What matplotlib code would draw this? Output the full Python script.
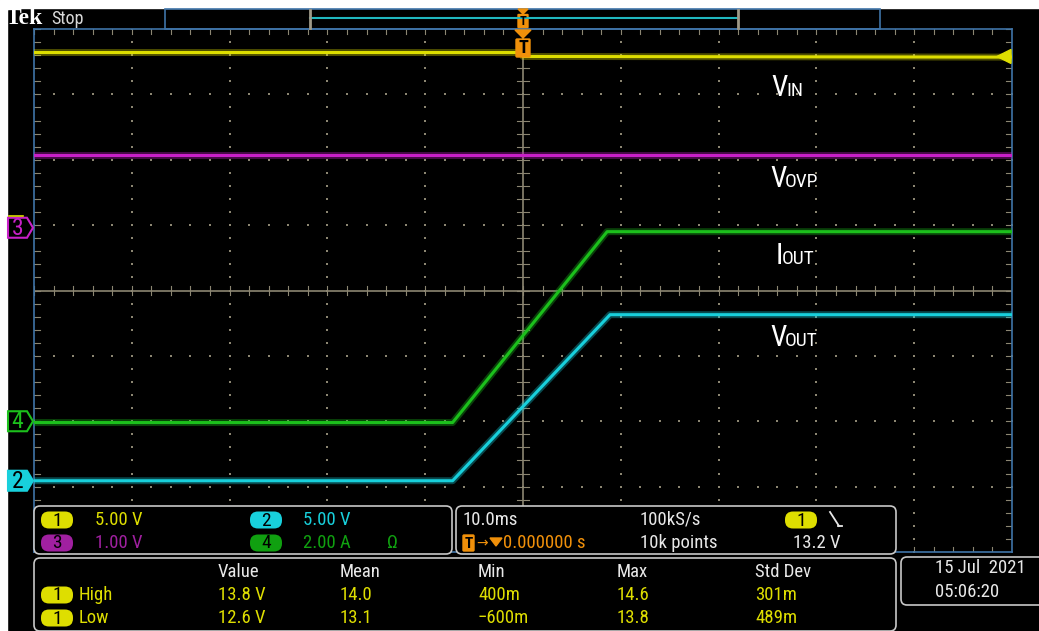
import matplotlib
matplotlib.use('Agg')
import matplotlib.pyplot as plt
from matplotlib.patches import FancyBboxPatch, Rectangle, Polygon
from matplotlib import font_manager as fm

# ---------------- data (time in ms, amplitude in screen divisions) ----------------
vin_time = [-50, 0, 0, 50]
vin_div = [3.64, 3.64, 3.58, 3.57]
vovp_time = [-50, 50]
vovp_div = [2.07, 2.07]
iout_time = [-50, -7.2, 8.6, 50]
iout_div = [-2.02, -2.02, 0.90, 0.90]
vout_time = [-50, -7.2, 8.9, 50]
vout_div = [-2.91, -2.91, -0.37, -0.37]

ch_marker_names = ['3', '4', '2']
ch_marker_levels = [0.96, -2.0, -2.91]
trig_level_div = 3.58

ch_scales = [('1', '5.00 V'), ('2', '5.00 V'), ('3', '1.00 V'), ('4', '2.00 A')]
timebase = '10.0ms'
sample_rate = '100kS/s'
record_len = '10k points'
trig_pos = '0.000000 s'
trig_val = '13.2 V'
meas_headers = ['Value', 'Mean', 'Min', 'Max', 'Std Dev']
meas_names = ['High', 'Low']
meas_values = [['13.8 V', '14.0', '400m', '14.6', '301m'],
               ['12.6 V', '13.1', '\u2212600m', '13.8', '489m']]
date_str = '15 Jul  2021'
time_str = '05:06:20'
trace_labels = [('V', 'IN'), ('V', 'OVP'), ('I', 'OUT'), ('V', 'OUT')]

# ---------------- colours ----------------
YEL = '#dede00'
MAG = '#c820c8'
GRN = '#1cc01c'
CYN = '#18d0dc'
ORG = '#f0900a'
GRID = '#8c8672'
BORDER = '#3f74a8'
PANEL = '#c8c8c8'

# ---------------- font ----------------
names = {f.name for f in fm.fontManager.ttflist}
FONT = 'DejaVu Sans'
for cand in ['Liberation Sans Narrow', 'Roboto Condensed', 'Open Sans Condensed']:
    if cand in names:
        FONT = cand
        break
plt.rcParams['font.family'] = [FONT, 'DejaVu Sans']

W, H = 1039, 631
fig = plt.figure(figsize=(W / 100, H / 100), dpi=100, facecolor='black')

# graticule area in pixels
L, R, T, B = 34, 1012, 29, 552
ax = fig.add_axes([L / W, 1 - B / H, (R - L) / W, (B - T) / H])
ax.set_facecolor('black')
ax.set_xlim(-50, 50)
ax.set_ylim(-4, 4)
ax.set_xticks([])
ax.set_yticks([])
for s in ax.spines.values():
    s.set_color(BORDER)
    s.set_linewidth(1.2)

# dotted grid
minor_y = [i * 0.2 for i in range(-20, 21)]
minor_x = [i * 2 for i in range(-25, 26)]
for gx in range(-40, 50, 10):
    if gx == 0:
        continue
    ax.scatter([gx] * len(minor_y), minor_y, s=1.2, color=GRID, marker='s', linewidths=0, zorder=1)
for gy in range(-3, 4):
    if gy == 0:
        continue
    ax.scatter(minor_x, [gy] * len(minor_x), s=1.2, color=GRID, marker='s', linewidths=0, zorder=1)
# center lines with ticks
ax.axhline(0, color=GRID, lw=1.2, zorder=1)
ax.axvline(0, color=GRID, lw=1.2, zorder=1)
for mx in minor_x:
    ax.plot([mx, mx], [-0.07, 0.07], color=GRID, lw=0.8, zorder=1)
for my in minor_y:
    ax.plot([-0.6, 0.6], [my, my], color=GRID, lw=0.8, zorder=1)
# edge ticks
for mx in minor_x:
    ax.plot([mx, mx], [3.93, 4.0], color=GRID, lw=0.8, zorder=1)
    ax.plot([mx, mx], [-4.0, -3.93], color=GRID, lw=0.8, zorder=1)
for my in minor_y:
    ax.plot([-50, -49.4], [my, my], color=GRID, lw=0.8, zorder=1)
    ax.plot([49.4, 50], [my, my], color=GRID, lw=0.8, zorder=1)

# traces: noisy band + core
for t, v, c in [(vin_time, vin_div, YEL), (vovp_time, vovp_div, MAG),
                (iout_time, iout_div, GRN), (vout_time, vout_div, CYN)]:
    ax.plot(t, v, color=c, lw=5.0, alpha=0.35, solid_joinstyle='round', zorder=3)
    ax.plot(t, v, color=c, lw=2.2, solid_joinstyle='round', zorder=4)

# ---------------- overlay in pixel coordinates ----------------
ov = fig.add_axes([0, 0, 1, 1], zorder=5)
ov.set_xlim(0, W)
ov.set_ylim(H, 0)
ov.axis('off')
ov.patch.set_alpha(0)

# white strips top & left
ov.add_patch(Rectangle((0, 0), W, 8, color='white', zorder=0))
ov.add_patch(Rectangle((0, 0), 7, H, color='white', zorder=0))

# top bar
ov.text(6, 19, 'Tek', color='white', fontsize=17, fontweight='bold',
        family=['Liberation Serif', 'DejaVu Serif'], va='center', ha='left')
ov.text(51, 18.5, 'Stop', color='#d8d8d8', fontsize=13, va='center', ha='left')
ov.add_patch(Rectangle((165, 8.5), 715, 20, fill=False, ec=BORDER, lw=1.2))
ov.plot([310, 738], [17.5, 17.5], color='#20b8c0', lw=1.5)
ov.plot([310, 310], [9.5, 27.5], color='#a09a88', lw=2)
ov.plot([738, 738], [9.5, 27.5], color='#a09a88', lw=2)
# small T marker in the top bar
ov.add_patch(Polygon([[518, 9], [528, 9], [523, 14]], closed=True, color=ORG))
ov.add_patch(FancyBboxPatch((518.5, 15), 9, 12, boxstyle='round,pad=0.5', color=ORG))
ov.text(523, 21.5, 'T', color='black', fontsize=9, fontweight='bold', ha='center', va='center')
# T marker at top of graticule
ov.add_patch(Polygon([[515, 30], [531, 30], [523, 38]], closed=True, color=ORG))
ov.add_patch(FancyBboxPatch((517, 40), 12, 16, boxstyle='round,pad=1', color=ORG))
ov.text(523, 48, 'T', color='black', fontsize=13, fontweight='bold', ha='center', va='center')

# trigger level arrow on the right
def div2py(d):
    return (T + B) / 2 - d * (B - T) / 8

ty = div2py(trig_level_div)
ov.add_patch(Polygon([[997, ty], [1011, ty - 7], [1011, ty + 7]], closed=True, color=YEL))

# channel ground markers on the left
mstyle = {'3': (MAG, False), '4': (GRN, False), '2': (CYN, True)}
for name, lvl in zip(ch_marker_names, ch_marker_levels):
    c, filled = mstyle[name]
    y = div2py(lvl)
    pts = [[8, y - 10], [27, y - 10], [33, y], [27, y + 10], [8, y + 10]]
    ov.add_patch(Polygon(pts, closed=True, fc=c if filled else 'black', ec=c, lw=1.5))
    ov.text(17.5, y + 0.5, name, color='black' if filled else c, fontsize=17,
            ha='center', va='center')
ov.plot([9, 23], [div2py(0.96) - 11.5] * 2, color=YEL, lw=1.2)

# trace labels
label_pos = [(771, 96), (770, 187), (776, 264), (770, 346)]
for (big, small), (x, y) in zip(trace_labels, label_pos):
    ov.text(x, y, big, color='white', fontsize=21, ha='left', va='baseline')
    xoff = 15 if big == 'V' else 6
    ov.text(x + xoff, y, small, color='white', fontsize=14, ha='left', va='baseline')

# ---------------- bottom panels ----------------
def panel(x0, y0, x1, y1):
    ov.add_patch(FancyBboxPatch((x0 + 6, y0 + 6), x1 - x0 - 12, y1 - y0 - 12,
                                boxstyle='round,pad=6', fc='black', ec=PANEL, lw=1.2))

def badge(x, y, txt, c, tc='black'):
    ov.add_patch(FancyBboxPatch((x - 8, y - 0.5), 16, 1, boxstyle='round,pad=8,rounding_size=8',
                                fc=c, ec=c, lw=0))
    ov.text(x, y + 0.5, txt, color=tc, fontsize=14, ha='center', va='center')

FS = 13.5
panel(34, 506, 452, 554)
panel(456, 506, 896, 554)
panel(34, 558, 896, 631)
panel(901, 557, 1045, 605)

chcol = {'1': YEL, '2': CYN, '3': '#a020a0', '4': '#10a010'}
chtxt = {'1': YEL, '2': CYN, '3': '#a020a0', '4': '#10a010'}
pos = {'1': (57, 95, 520), '2': (266, 303, 520), '3': (57, 95, 543), '4': (266, 303, 543)}
for ch, s in ch_scales:
    bx, tx, y = pos[ch]
    badge(bx, y, ch, chcol[ch])
    ov.text(tx, y, s, color=chtxt[ch], fontsize=FS, ha='left', va='center')
ov.text(387, 543, '\u03a9', color='#10a010', fontsize=FS, ha='left', va='center')

ov.text(463, 520, timebase, color='#e8e8e8', fontsize=FS, ha='left', va='center')
ov.text(640, 520, sample_rate, color='#e8e8e8', fontsize=FS, ha='left', va='center')
ov.text(640, 543, record_len, color='#e8e8e8', fontsize=FS, ha='left', va='center')
badge(801, 520, '1', YEL)
ov.plot([830, 839], [512, 526], color='#e8e8e8', lw=1.3)
ov.plot([838, 842], [526, 526], color='#e8e8e8', lw=1.3)
ov.text(793, 543, trig_val, color='#e8e8e8', fontsize=FS, ha='left', va='center')
ov.add_patch(FancyBboxPatch((464, 536), 9, 14, boxstyle='round,pad=1', color=ORG))
ov.text(468.5, 543.5, 'T', color='black', fontsize=11, fontweight='bold', ha='center', va='center')
ov.text(476, 543, '\u2192', color=ORG, fontsize=10, ha='left', va='center')
ov.add_patch(Polygon([[490, 538], [502, 538], [496, 546]], closed=True, color=ORG))
ov.text(503, 543, trig_pos, color=ORG, fontsize=FS, ha='left', va='center')

hx = [218, 340, 478, 617, 755]
for h, x in zip(meas_headers, hx):
    ov.text(x, 572, h, color='#e8e8e8', fontsize=FS, ha='left', va='center')
for r, (nm, vals) in enumerate(zip(meas_names, meas_values)):
    y = 595 + r * 23
    badge(57, y, '1', YEL)
    ov.text(79, y, nm, color=YEL, fontsize=FS, ha='left', va='center')
    for v, x in zip(vals, hx):
        ov.text(x, y, v, color=YEL, fontsize=FS, ha='left', va='center')

ov.text(935, 568, date_str, color='#e8e8e8', fontsize=FS, ha='left', va='center')
ov.text(935, 592, time_str, color='#e8e8e8', fontsize=FS, ha='left', va='center')

fig.savefig('out.png', dpi=100, facecolor='black')
